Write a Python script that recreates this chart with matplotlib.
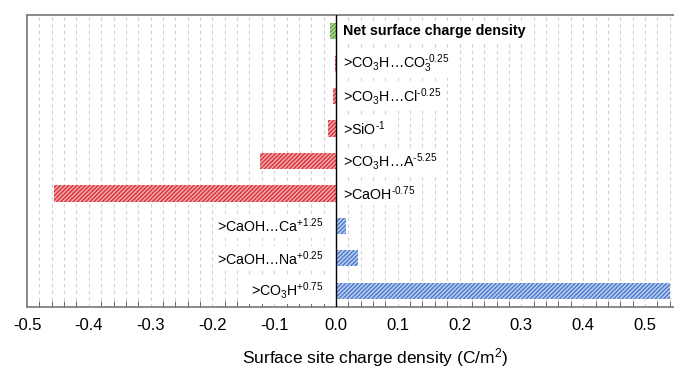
import matplotlib
matplotlib.use("Agg")
import matplotlib.pyplot as plt
import numpy as np

plt.rcParams['font.family'] = ['Liberation Sans', 'DejaVu Sans']
plt.rcParams['mathtext.fontset'] = 'custom'
plt.rcParams['mathtext.rm'] = 'Liberation Sans'
plt.rcParams['mathtext.default'] = 'regular'
plt.rcParams['hatch.linewidth'] = 1.0

# Data (top to bottom)
labels = [
    'Net surface charge density',
    r'>CO$_3$H…CO$_3^{\text{-0.25}}$',
    r'>CO$_3$H…Cl$^{\text{-0.25}}$',
    r'>SiO$^{\text{-1}}$',
    r'>CO$_3$H…A$^{\text{-5.25}}$',
    r'>CaOH$^{\text{-0.75}}$',
    r'>CaOH…Ca$^{\text{+1.25}}$',
    r'>CaOH…Na$^{\text{+0.25}}$',
    r'>CO$_3$H$^{\text{+0.75}}$',
]
values = [-0.0097, -0.002, -0.005, -0.0135, -0.123, -0.4565, 0.017, 0.036, 0.54]
groups = ['net', 'neg', 'neg', 'neg', 'neg', 'neg', 'pos', 'pos', 'pos']
xticks = [-0.5, -0.4, -0.3, -0.2, -0.1, 0.0, 0.1, 0.2, 0.3, 0.4, 0.5]
xlabel = 'Surface site charge density (C/m$^2$)'

styles = {
    'net': dict(facecolor='#b5d89c', edgecolor='#62a83e'),
    'neg': dict(facecolor='#f2a9ac', edgecolor='#d8323b'),
    'pos': dict(facecolor='#bccff0', edgecolor='#4a78cc'),
}

fig = plt.figure(figsize=(6.74, 3.69), dpi=100)
ax = fig.add_axes([27/674, 1-307/369, 1-27/674, (307-15)/369])

n = len(labels)
ypos = np.arange(n)[::-1]
for y, v, g in zip(ypos, values, groups):
    ax.barh(y, v, height=0.5, hatch='////////', linewidth=0, zorder=3, **styles[g])

ax.set_ylim(-0.5, n - 0.5)
ax.set_xlim(-0.5, 0.547)

# minor grid every 0.02
minor = np.arange(-0.48, 0.547, 0.02)
for m in minor:
    ax.axvline(m, color='#d0d0d0', lw=0.8, ls=(0, (3, 3)), zorder=1)
ax.axvline(0, color='black', lw=1.0, zorder=4)

ax.set_xticks(xticks)
ax.set_xticklabels([f'{t:.1f}' for t in xticks])
ax.set_xticks(minor, minor=True)
ax.tick_params(axis='x', which='major', length=0, labelsize=12, pad=8)
ax.tick_params(axis='x', which='minor', direction='in', length=4, color='#555555')
ax.set_yticks([])

for s in ['left', 'top', 'bottom']:
    ax.spines[s].set_color('#777777')
    ax.spines[s].set_linewidth(1.2)
ax.spines['right'].set_visible(False)

for i, (y, lab, v) in enumerate(zip(ypos, labels, values)):
    if v > 0 and i > 0:
        ax.text(-0.021, y, lab, ha='right', va='center', fontsize=10.2, zorder=5,
                bbox=dict(facecolor='white', edgecolor='none', pad=2))
    else:
        ax.text(0.012, y, lab, ha='left', va='center', zorder=5,
                fontsize=10.3,
                fontweight='bold' if i == 0 else 'normal',
                bbox=dict(facecolor='white', edgecolor='none', pad=2))

ax.set_xlabel(xlabel, fontsize=12.5, labelpad=9)
ax.xaxis.label.set_position(((375 - 27) / (674 - 27), 0))

fig.savefig('out.png', dpi=100)
